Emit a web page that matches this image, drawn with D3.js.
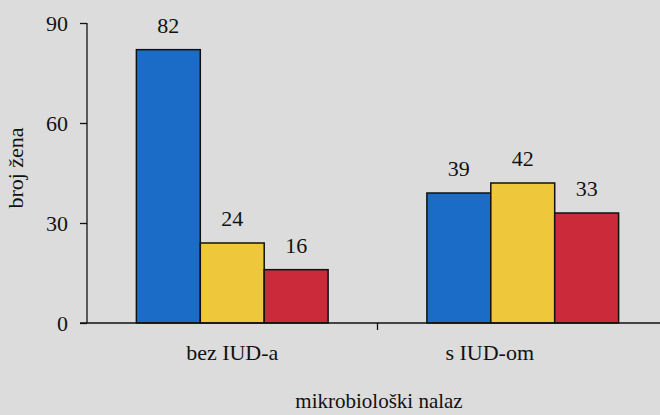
<!DOCTYPE html>
<meta charset="utf-8">
<style>
  body { margin: 0; background: #dcdcdc; }
  text { font-family: "Liberation Serif", "Times New Roman", serif; fill: #111; }
</style>
<svg width="660" height="415"></svg>
<script src="https://cdnjs.cloudflare.com/ajax/libs/d3/7.8.5/d3.min.js"></script>
<script>

var groups = ["bez IUD-a", "s IUD-om"];
var series = ["a", "b", "c"];
var values = [
  [82, 24, 16],
  [39, 42, 33]
];
var yTicks = [0, 30, 60, 90];
var colors = ["#1b6cc6", "#eec83a", "#cb2a3a"];

var svg = d3.select("svg");

svg.append("rect")
   .attr("width", 660)
   .attr("height", 415)
   .attr("fill", "#dcdcdc");

var y = d3.scaleLinear().domain([0, 90]).range([323, 23]);

var x0 = d3.scaleBand()
  .domain(groups)
  .range([87, 668])
  .paddingInner(0.34)
  .paddingOuter(0.17);

var x1 = d3.scaleBand()
  .domain(series)
  .range([0, x0.bandwidth()]);

// bars
var g = svg.selectAll("g.grp")
  .data(groups)
  .enter()
  .append("g")
  .attr("class", "grp")
  .attr("transform", function(d) { return "translate(" + x0(d) + ",0)"; });

g.selectAll("rect")
  .data(function(d, i) { return values[i].map(function(v, j) { return {s: series[j], v: v, c: colors[j]}; }); })
  .enter()
  .append("rect")
  .attr("x", function(d) { return x1(d.s); })
  .attr("y", function(d) { return y(d.v); })
  .attr("width", x1.bandwidth())
  .attr("height", function(d) { return y(0) - y(d.v); })
  .attr("fill", function(d) { return d.c; })
  .attr("stroke", "#111")
  .attr("stroke-width", 1.5);

g.selectAll("text")
  .data(function(d, i) { return values[i].map(function(v, j) { return {s: series[j], v: v}; }); })
  .enter()
  .append("text")
  .attr("x", function(d) { return x1(d.s) + x1.bandwidth() / 2; })
  .attr("y", function(d) { return y(d.v) - 17; })
  .attr("text-anchor", "middle")
  .attr("font-size", "22px")
  .text(function(d) { return d.v; });

// y axis
var yAxis = svg.append("g")
  .attr("transform", "translate(87,0)")
  .call(d3.axisLeft(y).tickValues(yTicks).tickSize(7).tickPadding(12));
yAxis.selectAll("path, line").attr("stroke", "#111").attr("stroke-width", 1.3);
yAxis.select(".domain").attr("d", "M0," + y(90) + "V" + y(0));
yAxis.selectAll("text")
  .attr("font-size", "22px")
  .attr("font-family", "Liberation Serif")
  .attr("fill", "#111");

// x axis
svg.append("line")
  .attr("x1", 80).attr("x2", 660)
  .attr("y1", y(0)).attr("y2", y(0))
  .attr("stroke", "#111").attr("stroke-width", 1.3);

var mid = x0.range()[0] + x0.step();
svg.append("line")
  .attr("x1", mid).attr("x2", mid)
  .attr("y1", y(0)).attr("y2", y(0) + 7)
  .attr("stroke", "#111").attr("stroke-width", 1.3);

svg.selectAll("text.cat")
  .data(groups)
  .enter()
  .append("text")
  .attr("class", "cat")
  .attr("x", function(d, i) { return x0(d) + x0.bandwidth() / 2 + (i === 1 ? -33 : 0); })
  .attr("y", 360)
  .attr("text-anchor", "middle")
  .attr("font-size", "22px")
  .text(function(d) { return d; });

svg.append("text")
  .attr("x", 379)
  .attr("y", 408)
  .attr("text-anchor", "middle")
  .attr("font-size", "21px")
  .text("mikrobiološki nalaz");

svg.append("text")
  .attr("transform", "translate(23,168) rotate(-90)")
  .attr("text-anchor", "middle")
  .attr("font-size", "22px")
  .text("broj žena");

</script>
